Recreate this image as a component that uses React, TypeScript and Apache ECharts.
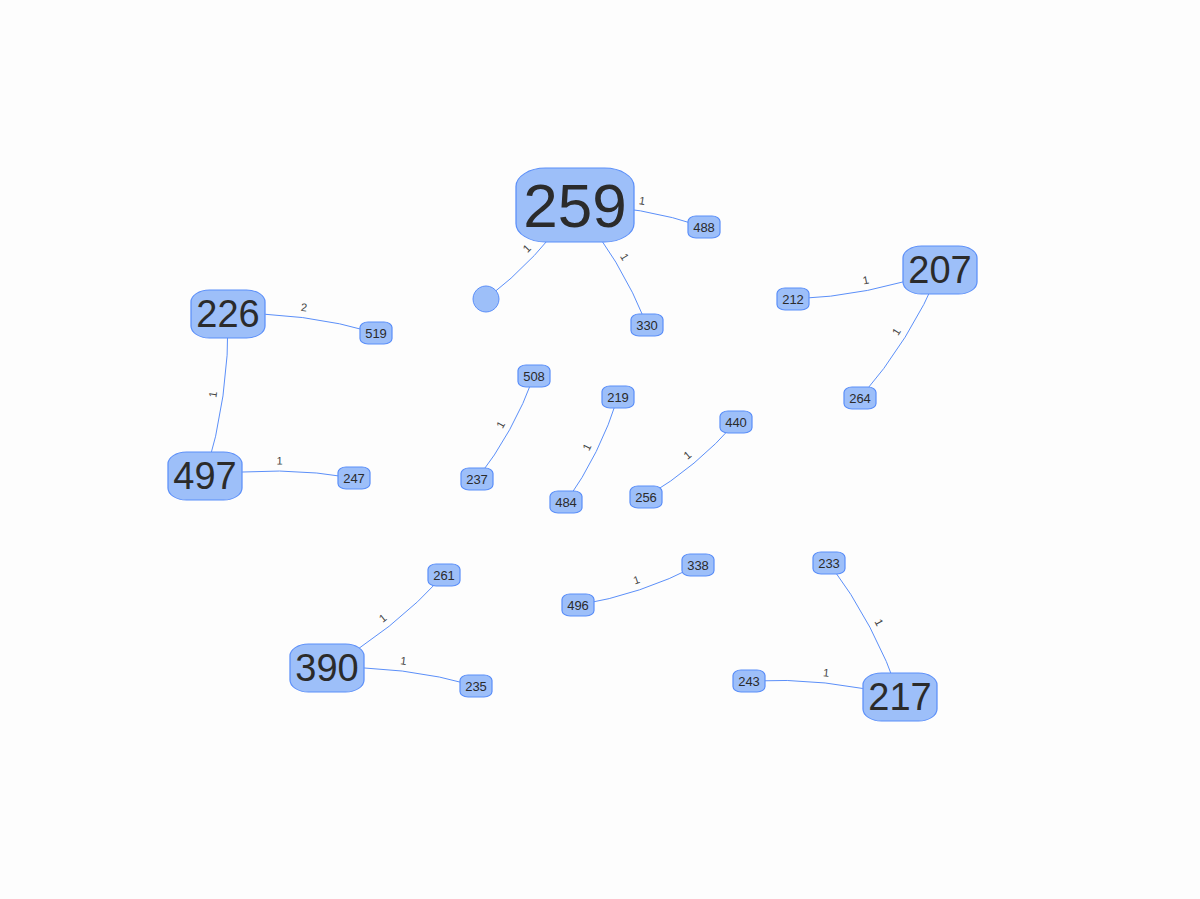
import * as echarts from "echarts";
import { useEffect, useRef } from "react";

// node id, x, y, kind (0 small, 1 medium, 2 large, 3 circle without label)
const nodeNames = ["259", "488", "", "330", "207", "212", "264", "226", "519", "497", "247", "508", "237", "219", "484", "440", "256", "261", "390", "235", "338", "496", "233", "217", "243"];
const nodeX = [575, 704, 486, 647, 940, 793, 860, 228, 376, 205, 354, 534, 477, 618, 566, 736, 646, 444, 327, 476, 698, 578, 829, 900, 749];
const nodeY = [205, 227, 299, 325, 270, 299, 398, 314, 333, 476, 478, 376, 479, 397, 502, 422, 497, 575, 668, 686, 565, 605, 563, 697, 681];
const nodeKind = [2, 0, 3, 0, 1, 0, 0, 1, 0, 1, 0, 0, 0, 0, 0, 0, 0, 0, 1, 0, 0, 0, 0, 1, 0];

const edgeSource = [0, 0, 0, 4, 4, 7, 7, 9, 11, 13, 15, 17, 18, 20, 22, 24];
const edgeTarget = [1, 2, 3, 5, 6, 8, 9, 10, 12, 14, 16, 18, 19, 21, 23, 23];
const edgeValue = [1, 1, 1, 1, 1, 2, 1, 1, 1, 1, 1, 1, 1, 1, 1, 1];

const kindSize: [number, number][] = [[32, 22], [74, 48], [118, 74], [26, 26]];
const kindFont = [13, 38, 62, 0];

export default function App() {
  const ref = useRef<HTMLDivElement | null>(null);

  useEffect(() => {
    document.body.style.margin = "0";
    const el = ref.current;
    if (!el) return;
    const chart = echarts.init(el, null, { renderer: "svg" });
    chart.setOption({
      animation: false,
      backgroundColor: "#fdfdfd",
      series: [
        {
          type: "graph",
          layout: "none",
          left: 205,
          top: 205,
          width: 735,
          height: 492,
          data: nodeNames.map((name, i) => {
            const k = nodeKind[i];
            return {
              name: name || "n" + i,
              x: nodeX[i],
              y: nodeY[i],
              symbol: k === 3 ? "circle" : "roundRect",
              symbolSize: kindSize[k],
              label: {
                show: k !== 3,
                formatter: name,
                fontSize: kindFont[k] || 12,
              },
            };
          }),
          links: edgeSource.map((s, i) => ({
            source: s,
            target: edgeTarget[i],
            value: edgeValue[i],
          })),
          itemStyle: { color: "#9dbff9", borderColor: "#5b8ff9", borderWidth: 1 },
          label: {
            position: "inside",
            color: "#2b2b2b",
            fontFamily: "Liberation Sans, Arial, sans-serif",
          },
          lineStyle: { color: "#5b8ff9", width: 1, curveness: 0.08, opacity: 1 },
          edgeLabel: {
            show: true,
            formatter: (p: any) => String(p.value),
            fontSize: 11,
            color: "#444",
            fontFamily: "Liberation Sans, Arial, sans-serif",
          },
        },
      ],
    });
    return () => chart.dispose();
  }, []);

  return <div ref={ref} style={{ width: 1200, height: 899 }} />;
}
